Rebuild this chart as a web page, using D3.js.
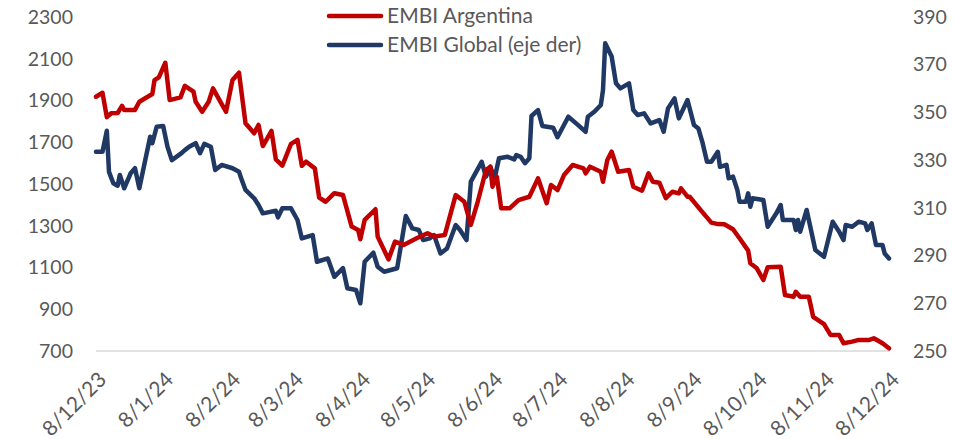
<!DOCTYPE html>
<html lang="es">
<head>
  <meta charset="UTF-8">
  <title>EMBI Argentina vs EMBI Global</title>
  <script src="https://d3js.org/d3.v7.min.js"></script>
  <style>
    body { margin: 0; background: #fff; }
    svg text { font-family: "Lato", "Liberation Sans", sans-serif; fill: #595959; }
  </style>
</head>
<body>
  <div id="chart"></div>

  <script>
    // Datos
    const argDates = ["2023-12-08","2023-12-11","2023-12-13","2023-12-15","2023-12-18","2023-12-20","2023-12-21","2023-12-26","2023-12-28",
      "2024-01-03","2024-01-04","2024-01-06","2024-01-09","2024-01-11","2024-01-16","2024-01-18","2024-01-22","2024-01-23","2024-01-26","2024-01-29","2024-01-31",
      "2024-02-03","2024-02-06","2024-02-09","2024-02-12","2024-02-15","2024-02-19","2024-02-21","2024-02-23","2024-02-27","2024-02-29",
      "2024-03-03","2024-03-07","2024-03-10","2024-03-12","2024-03-14","2024-03-18","2024-03-20","2024-03-23","2024-03-27","2024-03-31",
      "2024-04-04","2024-04-07","2024-04-08","2024-04-10","2024-04-15","2024-04-16","2024-04-21","2024-04-24","2024-04-28",
      "2024-05-04","2024-05-09","2024-05-12","2024-05-17","2024-05-22","2024-05-26","2024-05-29",
      "2024-06-01","2024-06-05","2024-06-07","2024-06-08","2024-06-10","2024-06-12","2024-06-16","2024-06-20","2024-06-25","2024-06-29",
      "2024-07-03","2024-07-05","2024-07-08","2024-07-11","2024-07-15","2024-07-20","2024-07-21","2024-07-23","2024-07-28","2024-07-29","2024-07-31",
      "2024-08-02","2024-08-05","2024-08-10","2024-08-12","2024-08-16","2024-08-19","2024-08-21","2024-08-24","2024-08-27","2024-08-30",
      "2024-09-02","2024-09-03","2024-09-06","2024-09-07","2024-09-12","2024-09-17","2024-09-20","2024-09-23","2024-09-27","2024-09-30",
      "2024-10-04","2024-10-05","2024-10-08","2024-10-11","2024-10-13","2024-10-19","2024-10-21","2024-10-25","2024-10-26","2024-10-28",
      "2024-11-01","2024-11-03","2024-11-08","2024-11-11","2024-11-15","2024-11-17","2024-11-21","2024-11-24","2024-11-29",
      "2024-12-01","2024-12-05","2024-12-08"];
    const argValues = [1918,1937,1820,1839,1840,1874,1855,1855,1894,
      1931,1998,2011,2081,1902,1915,1970,1942,1894,1846,1894,1958,
      1902,1846,1998,2033,1791,1743,1783,1682,1754,1618,
      1588,1692,1711,1587,1607,1575,1435,1415,1456,1447,
      1296,1280,1235,1328,1379,1248,1139,1224,1208,
      1240,1264,1248,1256,1447,1415,1304,
      1408,1567,1583,1487,1535,1384,1384,1423,1439,1527,
      1408,1495,1471,1543,1591,1575,1551,1583,1559,1511,1615,
      1655,1559,1567,1487,1468,1551,1511,1506,1432,1463,
      1455,1479,1439,1439,1376,1315,1308,1307,1283,1240,
      1181,1120,1096,1040,1101,1104,968,960,984,960,
      960,864,829,777,777,737,745,753,753,
      761,737,713];

    const globDates = ["2023-12-08","2023-12-11","2023-12-13","2023-12-14","2023-12-16","2023-12-18","2023-12-19","2023-12-21","2023-12-24","2023-12-26","2023-12-28",
      "2024-01-02","2024-01-03","2024-01-05","2024-01-08","2024-01-10","2024-01-12","2024-01-16","2024-01-18","2024-01-20","2024-01-23","2024-01-25","2024-01-27","2024-01-30",
      "2024-02-01","2024-02-04","2024-02-09","2024-02-12","2024-02-13","2024-02-15","2024-02-19","2024-02-21","2024-02-23","2024-02-29",
      "2024-03-01","2024-03-03","2024-03-07","2024-03-10","2024-03-12","2024-03-17","2024-03-19","2024-03-24","2024-03-27","2024-03-31",
      "2024-04-02","2024-04-06","2024-04-08","2024-04-10","2024-04-14","2024-04-16","2024-04-19","2024-04-25","2024-04-29",
      "2024-05-02","2024-05-05","2024-05-07","2024-05-10","2024-05-12","2024-05-15","2024-05-18","2024-05-22","2024-05-24","2024-05-27","2024-05-29",
      "2024-06-03","2024-06-05","2024-06-07","2024-06-09","2024-06-11","2024-06-15","2024-06-18","2024-06-19","2024-06-21","2024-06-23","2024-06-25","2024-06-26","2024-06-29",
      "2024-07-01","2024-07-06","2024-07-08","2024-07-13","2024-07-17","2024-07-21","2024-07-22","2024-07-25","2024-07-28","2024-07-29","2024-07-30",
      "2024-08-02","2024-08-04","2024-08-06","2024-08-10","2024-08-12","2024-08-14","2024-08-17","2024-08-20","2024-08-24","2024-08-26","2024-08-28","2024-08-31",
      "2024-09-02","2024-09-06","2024-09-09","2024-09-11","2024-09-13","2024-09-15","2024-09-17","2024-09-20","2024-09-21","2024-09-24","2024-09-25","2024-09-27","2024-09-29","2024-09-30",
      "2024-10-03","2024-10-04","2024-10-05","2024-10-06","2024-10-11","2024-10-13","2024-10-17","2024-10-19","2024-10-20","2024-10-25","2024-10-26","2024-10-27","2024-10-28","2024-10-31",
      "2024-11-04","2024-11-08","2024-11-12","2024-11-15","2024-11-17","2024-11-18","2024-11-21","2024-11-24","2024-11-27","2024-11-28","2024-11-30",
      "2024-12-02","2024-12-05","2024-12-06","2024-12-08"];
    const globValues = [333.5,333.5,342.3,325.1,320.3,319.3,323.8,318.2,324.5,326.6,318.2,
      339.8,337.1,344.0,344.3,335.6,330.0,332.6,334.2,335.6,337.1,332.9,336.8,335.6,
      325.9,328.0,326.6,325.1,322.4,317.5,314.0,311.2,307.7,308.8,
      306.0,309.8,309.8,304.9,297.2,298.6,287.4,288.8,281.1,284.7,
      276.3,275.6,270.0,287.4,291.2,285.3,283.2,284.7,306.6,
      301.4,300.7,296.5,297.2,298.6,290.9,293.0,302.8,300.7,296.5,321.0,
      329.3,323.1,327.2,322.4,330.8,331.4,330.3,332.1,331.4,328.7,330.8,348.5,351.0,
      344.3,343.6,339.6,348.2,345.1,341.9,348.2,350.3,353.1,359.4,379.0,
      373.4,362.2,360.1,362.2,351.0,348.9,349.6,345.4,346.8,341.9,351.7,355.9,
      347.5,355.2,344.7,343.3,337.1,329.3,329.3,333.5,327.2,328.0,322.4,323.1,317.5,312.6,
      312.6,316.1,310.5,314.0,313.3,302.1,307.7,311.2,304.9,304.9,300.7,304.9,300.0,309.1,
      292.3,289.5,304.2,300.0,296.5,302.8,302.1,304.2,303.5,300.7,303.5,
      294.4,294.4,290.9,288.8];

    const tickDates = ["2023-12-08","2024-01-08","2024-02-08","2024-03-08","2024-04-08","2024-05-08","2024-06-08",
      "2024-07-08","2024-08-08","2024-09-08","2024-10-08","2024-11-08","2024-12-08"];
    const leftTicks = [700, 900, 1100, 1300, 1500, 1700, 1900, 2100, 2300];
    const rightTicks = [250, 270, 290, 310, 330, 350, 370, 390];
    const seriesNames = ["EMBI Argentina", "EMBI Global (eje der)"];
    const colors = ["#C00000", "#1F3864"];

    const width = 953, height = 439;
    const margin = { top: 17, right: 64, bottom: 88, left: 96 };
    const parse = d3.timeParse("%Y-%m-%d");

    const svg = d3.select('#chart').append('svg')
      .attr('width', width)
      .attr('height', height);

    const x = d3.scaleTime()
      .domain([parse(tickDates[0]), parse(tickDates[tickDates.length - 1])])
      .range([margin.left, width - margin.right]);
    const yL = d3.scaleLinear().domain([700, 2300]).range([height - margin.bottom, margin.top]);
    const yR = d3.scaleLinear().domain([250, 390]).range([height - margin.bottom, margin.top]);

    // linea base
    svg.append('line')
      .attr('x1', x.range()[0]).attr('x2', x.range()[1] + 1)
      .attr('y1', yL(700)).attr('y2', yL(700))
      .attr('stroke', '#d9d9d9').attr('stroke-width', 1.5);

    // eje izquierdo
    const gl = svg.append('g')
      .attr('transform', `translate(${margin.left},0)`)
      .call(d3.axisLeft(yL).tickValues(leftTicks).tickSize(0).tickPadding(23).tickFormat(d3.format('d')));
    gl.select('.domain').remove();
    gl.selectAll('text').attr('font-size', 19.5);

    // eje derecho
    const gr = svg.append('g')
      .attr('transform', `translate(${width - margin.right},0)`)
      .call(d3.axisRight(yR).tickValues(rightTicks).tickSize(0).tickPadding(24).tickFormat(d3.format('d')));
    gr.select('.domain').remove();
    gr.selectAll('text').attr('font-size', 19.5);

    // eje x con fechas d/m/yy
    const fmt = (d) => `${d.getDate()}/${d.getMonth() + 1}/${String(d.getFullYear()).slice(2)}`;
    const gx = svg.append('g')
      .attr('transform', `translate(0,${height - margin.bottom})`)
      .call(d3.axisBottom(x).tickValues(tickDates.map(parse)).tickSize(0).tickFormat(fmt));
    gx.select('.domain').remove();
    gx.selectAll('text')
      .attr('font-size', 21)
      .attr('text-anchor', 'end')
      .attr('dy', null)
      .attr('y', 0)
      .attr('transform', 'translate(11,30) rotate(-45)');

    // series
    const argData = argDates.map((d, i) => ({ date: parse(d), value: argValues[i] }));
    const globData = globDates.map((d, i) => ({ date: parse(d), value: globValues[i] }));

    svg.append('path')
      .datum(globData)
      .attr('fill', 'none')
      .attr('stroke', colors[1])
      .attr('stroke-width', 4.5)
      .attr('stroke-linejoin', 'round')
      .attr('stroke-linecap', 'round')
      .attr('d', d3.line().x(d => x(d.date)).y(d => yR(d.value)));

    svg.append('path')
      .datum(argData)
      .attr('fill', 'none')
      .attr('stroke', colors[0])
      .attr('stroke-width', 4.5)
      .attr('stroke-linejoin', 'round')
      .attr('stroke-linecap', 'round')
      .attr('d', d3.line().x(d => x(d.date)).y(d => yL(d.value)));

    // leyenda
    const legend = svg.append('g').attr('transform', 'translate(329,16)');
    seriesNames.forEach((name, i) => {
      const g = legend.append('g').attr('transform', `translate(0,${i * 29})`);
      g.append('line')
        .attr('x1', 0).attr('x2', 52)
        .attr('stroke', colors[i]).attr('stroke-width', 4.5).attr('stroke-linecap', 'round');
      g.append('text')
        .attr('x', 58).attr('dy', '0.35em')
        .attr('font-size', 21)
        .text(name);
    });
  </script>
</body>
</html>
